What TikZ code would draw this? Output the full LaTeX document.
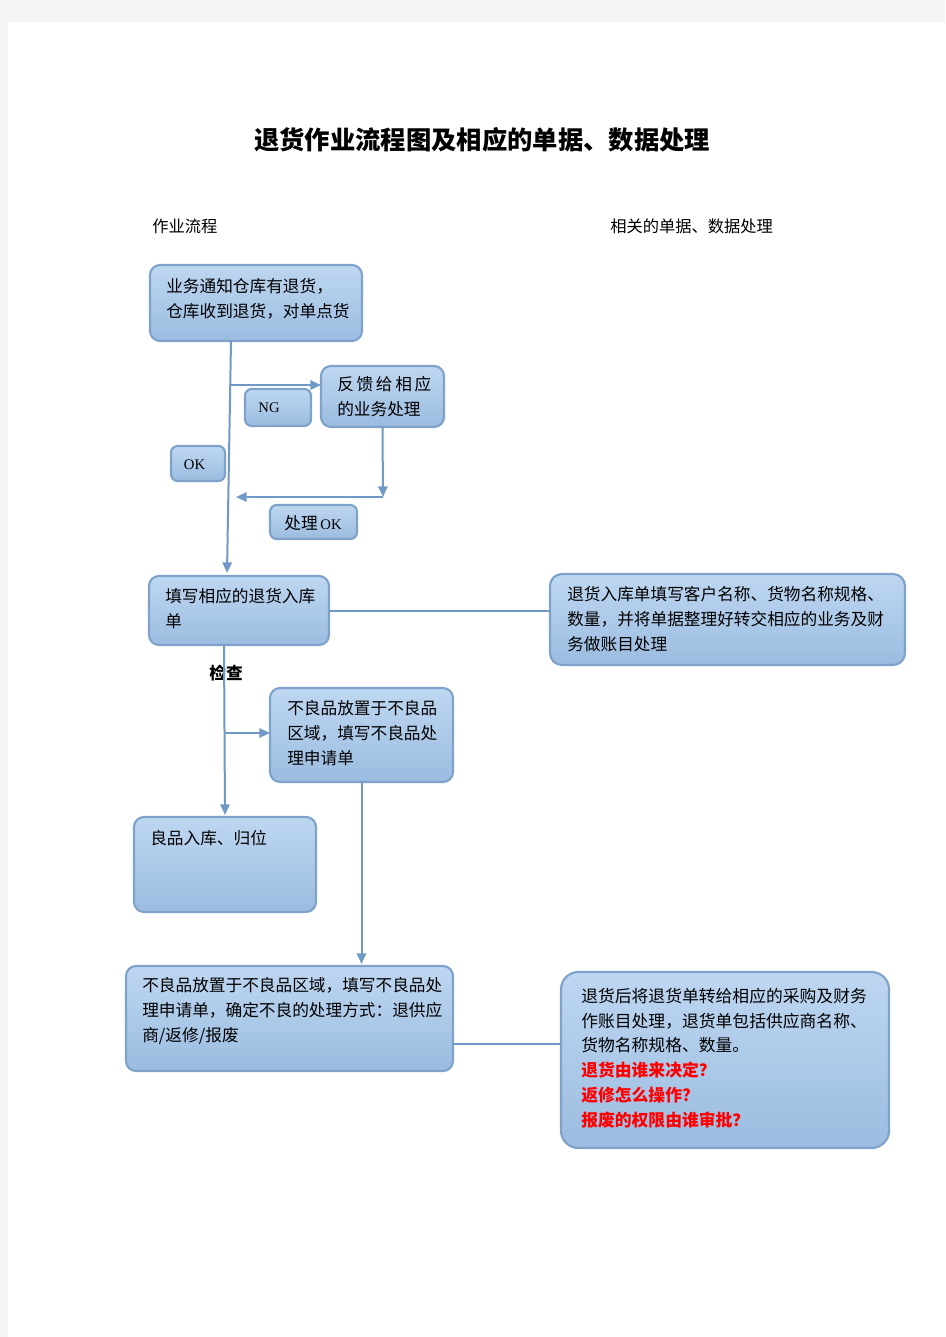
\documentclass[tikz,border=0pt]{standalone}
\usepackage{fontspec}
\setmainfont{Noto Sans CJK SC}
\newfontfamily\lat{Liberation Serif}
\usetikzlibrary{calc,arrows.meta}
\definecolor{pagegray}{HTML}{F4F4F4}
\definecolor{boxtop}{HTML}{BED7F1}
\definecolor{boxbot}{HTML}{9BBCE0}
\definecolor{boxline}{HTML}{7FA2CB}
\definecolor{arrowc}{HTML}{7199C6}
\definecolor{qred}{HTML}{FF0000}
\tikzset{
  bx/.style={draw=boxline, line width=1.6pt, rounded corners=7.5pt,
    top color=boxtop, bottom color=boxbot, inner sep=0pt, outer sep=0pt, anchor=north west},
  bigbx/.style={bx, rounded corners=13pt},
  txt/.style={font=\fontsize{12.5}{18.75}\selectfont, align=left, inner sep=0pt, anchor=west, text=black},
  lattxt/.style={font=\lat\fontsize{11}{13}\selectfont, inner sep=0pt, text=black},
  arr/.style={draw=arrowc, line width=1.5pt, -{Triangle[length=8pt,width=7pt]}},
  ln/.style={draw=arrowc, line width=1.5pt},
}
\begin{document}
\begin{tikzpicture}[x=0.75pt,y=-0.75pt]
\useasboundingbox (0,0) rectangle (945,1337);
\fill[pagegray] (0,0) rectangle (945,1337);
\fill[white] (8,22) rectangle (945,1337);

% title and headings
\node[font=\fontsize{19}{22}\selectfont\bfseries, inner sep=0pt] (title) at (482,140) {退货作业流程图及相应的单据、数据处理};
\node[font=\fontsize{12.2}{15}\selectfont, inner sep=0pt, anchor=west] (h1) at (152,226) {作业流程};
\node[font=\fontsize{12.2}{15}\selectfont, inner sep=0pt, anchor=west] (h2) at (610,226) {相关的单据、数据处理};

% boxes
\node[bx, minimum width=159pt, minimum height=57pt] (b1) at (150,265) {};
\node[bx, minimum width=92.25pt, minimum height=45.75pt] (b2) at (321,366) {};
\node[bx, rounded corners=5pt, minimum width=49.5pt, minimum height=27.75pt] (ng) at (245,389) {};
\node[bx, rounded corners=5pt, minimum width=40.5pt, minimum height=26.25pt] (ok) at (171,446) {};
\node[bx, rounded corners=5pt, minimum width=65.25pt, minimum height=25.5pt] (pok) at (270,505) {};
\node[bx, minimum width=135pt, minimum height=51.75pt] (b3) at (149,576) {};
\node[bx, rounded corners=9pt, minimum width=266.25pt, minimum height=68.25pt] (r1) at (550,574) {};
\node[bx, minimum width=137.25pt, minimum height=70.5pt] (b4) at (270,688) {};
\node[bx, minimum width=136.5pt, minimum height=71.25pt] (b5) at (134,817) {};
\node[bx, minimum width=245.25pt, minimum height=78.75pt] (b6) at (126,966) {};
\node[bigbx, minimum width=246pt, minimum height=132pt] (r2) at (561,972) {};

% texts
\node[txt] (t1) at (166,298.5) {业务通知仓库有退货，\\仓库收到退货，对单点货};
\node[txt] (t2) at (337,397) {反\hspace{2pt}馈\hspace{2pt}给\hspace{2pt}相\hspace{2pt}应\\的业务处理};
\node[lattxt] (tng) at (269,408) {NG};
\node[lattxt] (tok) at (194.5,465) {OK};
\node[font=\fontsize{12.5}{15}\selectfont, inner sep=0pt] (tpok) at (313,523) {处理\,{\lat\fontsize{11}{13}\selectfont OK}};
\node[txt] (t3) at (165,608.5) {填写相应的退货入库\\单};
\node[txt] (tr1) at (567,619) {退货入库单填写客户名称、货物名称规格、\\数量，并将单据整理好转交相应的业务及财\\务做账目处理};
\node[font=\fontsize{12.5}{15}\selectfont\bfseries, inner sep=0pt] (chk) at (226,673) {检查};
\node[txt] (t4) at (287,733) {不良品放置于不良品\\区域，填写不良品处\\理申请单};
\node[txt] (t5) at (150,838) {良品入库、归位};
\node[txt] (t6) at (142,1011) {不良品放置于不良品区域，填写不良品处\\理申请单，确定不良的处理方式：退供应\\商/返修/报废};
\node[txt, font=\fontsize{12.6}{18.6}\selectfont] (tr2) at (581,1058) {退货后将退货单转给相应的采购及财务\\作账目处理，退货单包括供应商名称、\\货物名称规格、数量。\\{\color{qred}\bfseries 退货由谁来决定？}\\{\color{qred}\bfseries 返修怎么操作？}\\{\color{qred}\bfseries 报废的权限由谁审批？}};

% connectors
\draw[arr] ($(b1.south west)+(81,0)$) -- ($(b3.north west)+(78,-3)$);
\coordinate (ng0) at (231,385);
\draw[arr] (ng0) -- ($(b2.north west)+(0,19)$);
\coordinate (ret) at (383,497);
\coordinate (ret0) at (236,497);
\draw[arr] (b2.south) -- (ret);
\draw[arr] (ret) -- (ret0);
\draw[ln] (b3.east) -- (r1.west |- b3.east);
\draw[arr] ($(b3.south west)+(75,0)$) -- ($(b5.north west)+(91,-2)$);
\coordinate (br) at (225,733);
\draw[arr] (br) -- (b4.west |- br);
\draw[arr] (b4.south) -- ($(b4.south |- b6.north)+(0,-2)$);
\draw[ln] ($(b6.north east)+(0,78)$) coordinate (cn) -- (cn -| r2.west);
\end{tikzpicture}
\end{document}
